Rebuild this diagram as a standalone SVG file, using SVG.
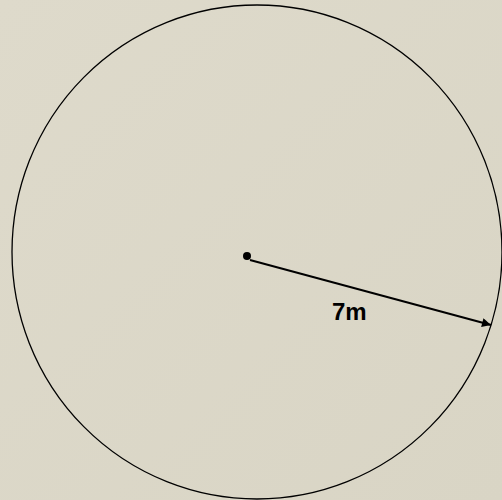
<svg xmlns="http://www.w3.org/2000/svg" width="502" height="500" viewBox="0 0 502 500">
<defs>
<marker id="ah" viewBox="0 0 10 10" refX="10" refY="5" markerWidth="11" markerHeight="9" markerUnits="userSpaceOnUse" orient="auto"><path d="M0,0 L10,5 L0,10 z" fill="#000"/></marker>
<linearGradient id="bg" x1="0" y1="0" x2="1" y2="1"><stop offset="0" stop-color="#dedacb"/><stop offset="1" stop-color="#d9d5c5"/></linearGradient>
</defs>
<style>.t{font-family:"Liberation Sans",Arial,sans-serif;font-weight:bold;font-size:24px;fill:#000}</style>
<rect width="502" height="500" fill="url(#bg)"/>
<g id="circle"><ellipse cx="257" cy="252" rx="245" ry="247" fill="none" stroke="#000" stroke-width="1.3"/></g>
<g id="center"><circle cx="247" cy="256" r="4" fill="#000"/></g>
<g id="connectors"><line x1="250" y1="260" x2="491" y2="325" stroke="#000" stroke-width="2" marker-end="url(#ah)"/></g>
<g id="label"><text class="t" x="332" y="320">7m</text></g>
</svg>
